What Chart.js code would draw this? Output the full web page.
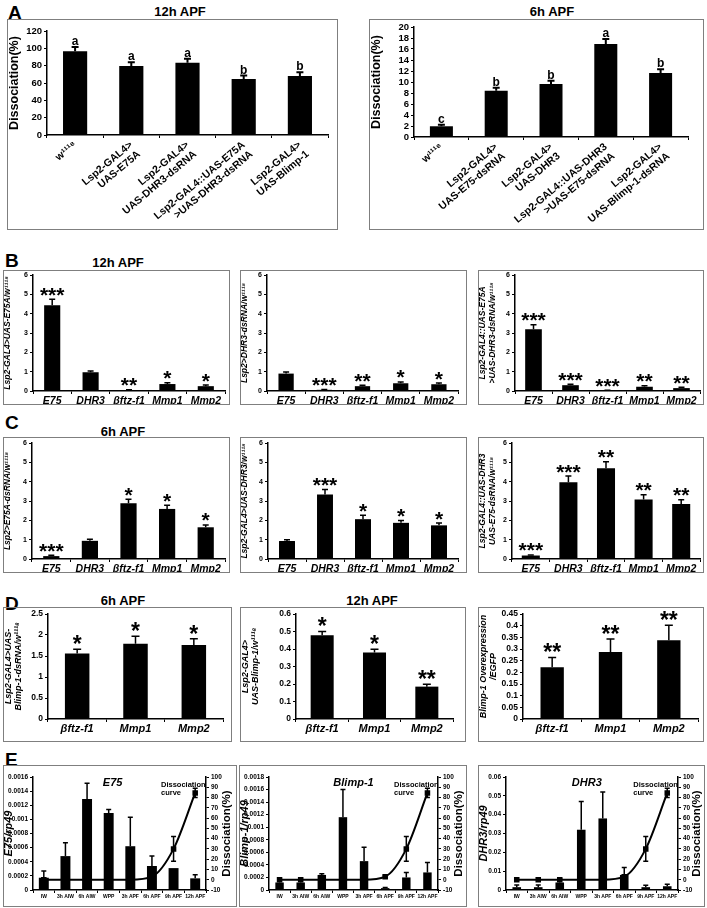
<!DOCTYPE html>
<html><head><meta charset="utf-8">
<script src="https://cdn.jsdelivr.net/npm/chart.js@4.4.1/dist/chart.umd.min.js"></script>
<style>
body{margin:0;background:#fff;width:707px;height:908px;position:relative;overflow:hidden;font-family:'Liberation Sans',Arial,sans-serif;}
.box{position:absolute;border:1px solid #7f7f7f;box-sizing:border-box;pointer-events:none;}
canvas{position:absolute;}
.t{position:absolute;font-weight:bold;color:#000;white-space:nowrap;}
.big{font-size:19px;line-height:19px;}
.ttl{font-size:13px;line-height:13px;transform:translateX(-50%);}
</style></head><body>
<script>
// ---------------- DATA ----------------
// Panel A
const aCats12 = [["w¹¹¹⁸"],["Lsp2-GAL4>","UAS-E75A"],["Lsp2-GAL4>","UAS-DHR3-dsRNA"],["Lsp2-GAL4::UAS-E75A",">UAS-DHR3-dsRNA"],["Lsp2-GAL4>","UAS-Blimp-1"]];
const aVals12 = [96.5, 79.7, 83.5, 64.7, 68.2];
const aErr12 = [5, 4.3, 4.5, 3.9, 4.2];
const aSig12 = ['a','a','a','b','b'];
const aCats6 = [["w¹¹¹⁸"],["Lsp2-GAL4>","UAS-E75-dsRNA"],["Lsp2-GAL4>","UAS-DHR3"],["Lsp2-GAL4::UAS-DHR3",">UAS-E75-dsRNA"],["Lsp2-GAL4>","UAS-Blimp-1-dsRNA"]];
const aVals6 = [1.95, 8.42, 9.64, 16.9, 11.64];
const aErr6 = [0.3, 0.55, 0.6, 0.9, 0.7];
const aSig6 = ['c','b','b','a','b'];
const aTicks12 = [0, 120, 20];
const aTicks6 = [0, 20, 2];

// Panels B & C
const genes = ['E75','DHR3','βftz-f1','Mmp1','Mmp2'];
const bcTicks = [0, 6, 1];
const b1Vals = [4.43, 0.97, 0.05, 0.36, 0.25]; const b1Err = [0.31, 0.07, 0.02, 0.07, 0.06]; const b1Sig = ['***','','**','*','*'];
const b2Vals = [0.9, 0.06, 0.25, 0.4, 0.35];   const b2Err = [0.08, 0.02, 0.05, 0.07, 0.06]; const b2Sig = ['','***','**','*','*'];
const b3Vals = [3.2, 0.3, 0.03, 0.22, 0.15];   const b3Err = [0.23, 0.05, 0.01, 0.05, 0.04]; const b3Sig = ['***','***','***','**','**'];
const c1Vals = [0.15, 0.94, 2.88, 2.59, 1.64]; const c1Err = [0.04, 0.08, 0.21, 0.19, 0.12]; const c1Sig = ['***','','*','*','*'];
const c2Vals = [0.93, 3.33, 2.06, 1.87, 1.74]; const c2Err = [0.07, 0.27, 0.2, 0.12, 0.12]; const c2Sig = ['','***','*','*','*'];
const c3Vals = [0.18, 3.97, 4.69, 3.08, 2.84]; const c3Err = [0.03, 0.32, 0.34, 0.24, 0.22]; const c3Sig = ['***','***','**','**','**'];

// Panel D
const dGenes = ['βftz-f1','Mmp1','Mmp2'];
const d1Vals = [1.56, 1.79, 1.76];   const d1Err = [0.1, 0.18, 0.15];   const d1Sig = ['*','*','*'];
const d2Vals = [0.478, 0.38, 0.185]; const d2Err = [0.022, 0.018, 0.014]; const d2Sig = ['*','*','**'];
const d3Vals = [0.222, 0.287, 0.338]; const d3Err = [0.042, 0.056, 0.064]; const d3Sig = ['**','**','**'];
const d1Ticks = [0, 2.5, 0.5]; const d2Ticks = [0, 0.6, 0.1]; const d3Ticks = [0, 0.45, 0.05];

// Panel E
const stages = ['IW','3h AIW','6h AIW','WPP','3h APF','6h APF','9h APF','12h APF'];
const e75Vals = [0.000174, 0.00048, 0.00129, 0.00109, 0.00062, 0.00034, 0.00031, 0.000165];
const e75Err  = [0.000094, 0.00019, 0.00022, 0.00005, 0.00041, 0.00014, 0, 0.00005];
const blimpVals = [0.00012, 0.00012, 0.00024, 0.00116, 0.00046, 0.00003, 0.0002, 0.00028];
const blimpErr  = [0.00006, 0.00005, 0.00002, 0.00044, 0.00022, 0.00001, 0.00008, 0.00016];
const dhr3Vals = [0.0015, 0.0015, 0.004, 0.032, 0.038, 0.008, 0.0015, 0.002];
const dhr3Err  = [0.0012, 0.0012, 0.002, 0.015, 0.014, 0.004, 0.001, 0.001];
const dissoc    = [0, 0, 0, 0, 0, 3, 30, 84.5];
const dissocErr = [0, 0, 0, 0, 0, 1, 12, 4.5];
const e75Ticks = [0, 0.0016, 0.0002]; const blimpTicks = [0, 0.0018, 0.0002]; const dhr3Ticks = [0, 0.06, 0.01];
const dissTicks = [-10, 100, 10];

// ---------------- DRAWING ----------------
const FF = "'Liberation Sans', Arial, sans-serif";
const fnt = (size, italic) => ({family: FF, size, weight: 'bold', style: italic ? 'italic' : 'normal', lineHeight: 1.15});
const extras = {};
let cid = 0;

const annot = {
  id: 'annot',
  afterDatasetsDraw(chart) {
    const ex = extras[chart.canvas.id] || {};
    const ctx = chart.ctx, ca = chart.chartArea;
    chart.data.datasets.forEach((ds, di) => {
      if (!ds.errs && !ds.marks) return;
      const meta = chart.getDatasetMeta(di);
      const ys = chart.scales[meta.yAxisID];
      meta.data.forEach((el, i) => {
        const v = ds.data[i], e = ds.errs ? ds.errs[i] : 0;
        const x = el.x, yt = ys.getPixelForValue(v + e);
        const yb = ds.both ? ys.getPixelForValue(v - e) : ys.getPixelForValue(v);
        const cap = ds.cap || 3;
        ctx.save();
        ctx.strokeStyle = '#000'; ctx.lineWidth = ds.errW || 1.5;
        if (e > 0) {
          ctx.beginPath();
          ctx.moveTo(x, yb); ctx.lineTo(x, yt);
          ctx.moveTo(x - cap, yt); ctx.lineTo(x + cap, yt);
          if (ds.both) { ctx.moveTo(x - cap, yb); ctx.lineTo(x + cap, yb); }
          ctx.stroke();
        }
        if (ds.marks && ds.marks[i]) {
          const m = ds.marks[i];
          const star = m.indexOf('*') >= 0;
          const sz = star ? ds.starSize : ds.letterSize;
          ctx.fillStyle = '#000';
          ctx.font = 'bold ' + sz + 'px ' + FF;
          ctx.textAlign = 'center'; ctx.textBaseline = 'alphabetic';
          ctx.fillText(m, x, star ? yt + sz * 0.12 : yt - 2);
        }
        ctx.restore();
      });
    });
    (ex.texts || []).forEach(t => {
      ctx.save(); ctx.fillStyle = '#000'; ctx.font = t.font;
      ctx.textAlign = t.align || 'center'; ctx.textBaseline = 'middle';
      ctx.fillText(t.text, ca.left + t.fx * (ca.right - ca.left), ca.top + t.dy);
      ctx.restore();
    });
    if (ex.rightTitle) {
      const r = ex.rightTitle;
      ctx.save(); ctx.fillStyle = '#000'; ctx.font = r.font;
      ctx.translate(chart.width - r.dx, (ca.top + ca.bottom) / 2 + (r.dy || 0));
      ctx.rotate(-Math.PI / 2);
      ctx.textAlign = 'center'; ctx.textBaseline = 'middle';
      ctx.fillText(r.text, 0, 0);
      ctx.restore();
    }
  }
};
Chart.register(annot);

const fmt = v => String(+Number(v).toFixed(6));

function xScale(h, size, italic, rot) {
  return {
    type: 'category', offset: true,
    grid: {display: true, drawOnChartArea: false, drawTicks: true, tickLength: 3, color: '#000', lineWidth: 1, offset: true},
    border: {display: true, color: '#000', width: 1.5},
    ticks: {font: fnt(size, italic), color: '#000', minRotation: rot || 0, maxRotation: rot || 0, autoSkip: false, padding: 1},
    afterFit(s) { s.height = h; s.paddingLeft = 0; s.paddingRight = 0; }
  };
}
function yScale(w, t, tickSize, title, titleSize, titleItalic, pos) {
  return {
    type: 'linear', position: pos || 'left', min: t[0], max: t[1],
    ticks: {stepSize: t[2], font: fnt(tickSize), color: '#000', padding: 2, callback: fmt, autoSkip: false},
    grid: {display: true, drawOnChartArea: false, drawTicks: true, tickLength: 3, color: '#000', lineWidth: 1},
    border: {display: true, color: '#000', width: 1.5},
    title: {display: !!title, text: title || '', font: fnt(titleSize, titleItalic), color: '#000', padding: {top: 0, bottom: 1}},
    afterFit(s) { s.width = w; s.paddingTop = 0; s.paddingBottom = 0; }
  };
}

function place(box, lay, cfg, ex) {
  const [x, y, w, h] = box;
  const c = document.createElement('canvas');
  c.id = 'c' + (cid++);
  c.width = w; c.height = h;
  c.style.left = x + 'px'; c.style.top = y + 'px';
  c.style.width = w + 'px'; c.style.height = h + 'px';
  document.body.appendChild(c);
  const b = document.createElement('div');
  b.className = 'box';
  b.style.left = x + 'px'; b.style.top = y + 'px'; b.style.width = w + 'px'; b.style.height = h + 'px';
  document.body.appendChild(b);
  extras[c.id] = ex || {};
  cfg.options = Object.assign({
    responsive: false, animation: false, devicePixelRatio: 1,
    layout: {padding: {top: lay.top, right: lay.right, bottom: 0, left: 0}},
    plugins: {legend: {display: false}, tooltip: {enabled: false}, title: {display: false}}
  }, cfg.options);
  new Chart(c, cfg);
}

function barSet(vals, errs, sig, bp, o) {
  return Object.assign({type: 'bar', data: vals, errs, marks: sig, backgroundColor: '#000', borderWidth: 0,
    barPercentage: bp, categoryPercentage: 1, yAxisID: 'y', order: 2, cap: 3, errW: 1.5, starSize: 21, letterSize: 12}, o || {});
}

function text(s, x, y, cls) {
  const d = document.createElement('div');
  d.className = 't ' + cls; d.textContent = s;
  d.style.left = x + 'px'; d.style.top = y + 'px';
  document.body.appendChild(d);
}

// Panel letters and titles
text('A', 8, 2.5, 'big');
text('12h APF', 180, 5, 'ttl');
text('6h APF', 552, 5, 'ttl');
text('B', 5, 250.5, 'big');
text('12h APF', 118, 256, 'ttl');
text('C', 5, 412.5, 'big');
text('6h APF', 123, 425, 'ttl');
text('D', 5, 593.5, 'big');
text('6h APF', 123, 594, 'ttl');
text('12h APF', 372, 594, 'ttl');
text('E', 5, 750, 'big');

// ---- A ----
place([7, 19, 331, 211], {top: 12, right: 10}, {
  type: 'bar',
  data: {labels: aCats12, datasets: [barSet(aVals12, aErr12, aSig12, 0.43, {cap: 3.5, errW: 2})]},
  options: {scales: {x: xScale(95, 10.5, false, 40), y: yScale(40, aTicks12, 9.5, 'Dissociation(%)', 12.5)}}
});
place([369, 19, 335, 211], {top: 8, right: 16}, {
  type: 'bar',
  data: {labels: aCats6, datasets: [barSet(aVals6, aErr6, aSig6, 0.42, {cap: 3.5, errW: 2})]},
  options: {scales: {x: xScale(93, 10.5, false, 40), y: yScale(45, aTicks6, 9.5, 'Dissociation(%)', 12.5)}}
});

// ---- B ----
place([3, 270, 227, 135], {top: 5, right: 5}, {
  type: 'bar', data: {labels: genes, datasets: [barSet(b1Vals, b1Err, b1Sig, 0.42)]},
  options: {scales: {x: xScale(14, 10.5, true), y: yScale(30, bcTicks, 7, 'Lsp2-GAL4>UAS-E75A/w¹¹¹⁸', 8.5, true)}}
});
place([240, 270, 227, 135], {top: 5, right: 9}, {
  type: 'bar', data: {labels: genes, datasets: [barSet(b2Vals, b2Err, b2Sig, 0.4)]},
  options: {scales: {x: xScale(14, 10.5, true), y: yScale(27, bcTicks, 7, 'Lsp2>DHR3-dsRNA/w¹¹¹⁸', 8.5, true)}}
});
place([478, 270, 226, 135], {top: 5, right: 4}, {
  type: 'bar', data: {labels: genes, datasets: [barSet(b3Vals, b3Err, b3Sig, 0.45)]},
  options: {scales: {x: xScale(14, 10.5, true), y: yScale(37, bcTicks, 7, ['Lsp2-GAL4::UAS-E75A', '>UAS-DHR3-dsRNA/w¹¹¹⁸'], 8.5, true)}}
});

// ---- C ----
place([3, 437, 227, 136], {top: 6, right: 5}, {
  type: 'bar', data: {labels: genes, datasets: [barSet(c1Vals, c1Err, c1Sig, 0.42)]},
  options: {scales: {x: xScale(14, 10.5, true), y: yScale(29, bcTicks, 7, 'Lsp2>E75A-dsRNA/w¹¹¹⁸', 8.5, true)}}
});
place([240, 437, 227, 136], {top: 6, right: 9}, {
  type: 'bar', data: {labels: genes, datasets: [barSet(c2Vals, c2Err, c2Sig, 0.42)]},
  options: {scales: {x: xScale(14, 10.5, true), y: yScale(28, bcTicks, 7, 'Lsp2-GAL4>UAS-DHR3/w¹¹¹⁸', 8.5, true)}}
});
place([478, 437, 226, 136], {top: 6, right: 4}, {
  type: 'bar', data: {labels: genes, datasets: [barSet(c3Vals, c3Err, c3Sig, 0.48)]},
  options: {scales: {x: xScale(14, 10.5, true), y: yScale(34, bcTicks, 7, ['Lsp2-GAL4::UAS-DHR3', 'UAS-E75-dsRNA/w¹¹¹⁸'], 8.5, true)}}
});

// ---- D ----
place([3, 607, 229, 135], {top: 7, right: 9}, {
  type: 'bar', data: {labels: dGenes, datasets: [barSet(d1Vals, d1Err, d1Sig, 0.42, {starSize: 23, cap: 4})]},
  options: {scales: {x: xScale(23, 11, true), y: yScale(45, d1Ticks, 8.5, ['Lsp2-GAL4>UAS-', 'Blimp-1-dsRNA/w¹¹¹⁸'], 9, true)}}
});
place([240, 607, 226, 135], {top: 7, right: 13}, {
  type: 'bar', data: {labels: dGenes, datasets: [barSet(d2Vals, d2Err, d2Sig, 0.44, {starSize: 23, cap: 4})]},
  options: {scales: {x: xScale(23, 11, true), y: yScale(56, d2Ticks, 8.5, ['Lsp2-GAL4>', 'UAS-Blimp-1/w¹¹¹⁸'], 9, true)}}
});
place([478, 607, 226, 135], {top: 7, right: 6}, {
  type: 'bar', data: {labels: dGenes, datasets: [barSet(d3Vals, d3Err, d3Sig, 0.4, {starSize: 23, cap: 4})]},
  options: {scales: {x: xScale(23, 11, true), y: yScale(45, d3Ticks, 8.5, ['Blimp-1 Overexpression', '/EGFP'], 9, true)}}
});

// ---- E ----
function eChart(box, yW, rW, rdx, vals, errs, ticks, ylab, gene, bp, gfx, dfx) {
  place(box, {top: 12, right: 0}, {
    type: 'bar',
    data: {labels: stages, datasets: [
      {type: 'line', data: dissoc, errs: dissocErr, both: true, cap: 2.5, errW: 1.5, yAxisID: 'y2', order: 0,
       borderColor: '#000', borderWidth: 2, pointStyle: 'rect', pointRadius: 2.5, pointBackgroundColor: '#000',
       pointBorderColor: '#000', cubicInterpolationMode: 'monotone', fill: false},
      barSet(vals, errs, null, bp, {cap: 2.5, errW: 1.5})
    ]},
    options: {scales: {
      x: xScale(17, 5, false),
      y: yScale(yW, ticks, 6.5, ylab, 11, true),
      y2: yScale(rW, dissTicks, 6.5, null, 11, false, 'right')
    }}
  }, {
    texts: [
      {text: gene, font: 'italic bold 11px ' + FF, fx: gfx, dy: 6},
      {text: 'Dissociation', font: 'bold 7.5px ' + FF, fx: dfx, dy: 8, align: 'left'},
      {text: 'curve', font: 'bold 7.5px ' + FF, fx: dfx, dy: 16, align: 'left'}
    ],
    rightTitle: {text: 'Dissociation(%)', font: 'bold 11.5px ' + FF, dx: rdx}
  });
}
eChart([3, 765, 234, 142], 30, 31, 10, e75Vals, e75Err, e75Ticks, 'E75/rp49', 'E75', 0.46, 0.46, 0.74);
eChart([239, 765, 228, 142], 30, 29, 8, blimpVals, blimpErr, blimpTicks, 'Blimp-1/rp49', 'Blimp-1', 0.4, 0.5, 0.74);
eChart([478, 765, 227, 142], 28, 27, 8, dhr3Vals, dhr3Err, dhr3Ticks, 'DHR3/rp49', 'DHR3', 0.4, 0.47, 0.74);
</script>
</body></html>
